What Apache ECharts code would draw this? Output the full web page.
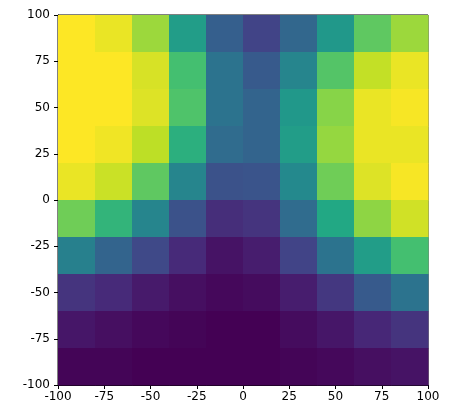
<!DOCTYPE html>
<html><head><meta charset="utf-8">
<script src="https://cdn.jsdelivr.net/npm/echarts@6/dist/echarts.min.js"></script>
<style>html,body{margin:0;padding:0;background:#fff}#c{width:450px;height:418px}</style>
</head><body><div id="c"></div>
<script>
const xCenters = [-90,-70,-50,-30,-10,10,30,50,70,90];
const yCenters = [90,70,50,30,10,-10,-30,-50,-70,-90];
const row90  = [1.0,0.97,0.85,0.55,0.30,0.20,0.33,0.53,0.75,0.85];
const row70  = [1.0,1.0,0.94,0.70,0.38,0.28,0.45,0.73,0.91,0.97];
const row50  = [1.0,1.0,0.95,0.72,0.38,0.32,0.53,0.82,0.97,0.99];
const row30  = [1.0,0.98,0.90,0.63,0.35,0.32,0.55,0.84,0.97,0.97];
const row10  = [0.97,0.92,0.75,0.45,0.25,0.26,0.47,0.78,0.95,0.99];
const rowm10 = [0.78,0.65,0.45,0.25,0.13,0.15,0.35,0.60,0.83,0.93];
const rowm30 = [0.43,0.32,0.22,0.12,0.05,0.08,0.20,0.38,0.55,0.70];
const rowm50 = [0.15,0.12,0.07,0.04,0.02,0.03,0.08,0.16,0.28,0.38];
const rowm70 = [0.06,0.04,0.02,0.01,0.0,0.0,0.03,0.06,0.11,0.15];
const rowm90 = [0.01,0.01,0.0,0.0,0.0,0.0,0.01,0.02,0.04,0.05];
const rows = [row90,row70,row50,row30,row10,rowm10,rowm30,rowm50,rowm70,rowm90];
const viridis = ['#440154','#482475','#414487','#355f8d','#2a788e','#21918c','#22a884','#44bf70','#7ad151','#bddf26','#fde725'];
const data = [];
rows.forEach((r,i)=>r.forEach((v,j)=>data.push([xCenters[j],yCenters[i],v])));
const chart = echarts.init(document.getElementById('c'));
const ax = {type:'value',min:-100,max:100,interval:25,
  axisLine:{show:true,onZero:false,lineStyle:{color:'#000'}},
  axisTick:{show:true,length:4,lineStyle:{color:'#000'}},
  axisLabel:{color:'#000',fontSize:12,fontFamily:'DejaVu Sans'},
  splitLine:{show:false}};
chart.setOption({
  animation:false,
  grid:{left:58,right:22,top:15,bottom:33,show:true,borderColor:'#000',borderWidth:1},
  xAxis:Object.assign({},ax,{axisLabel:Object.assign({},ax.axisLabel,{margin:6})}),
  yAxis:Object.assign({},ax),
  visualMap:{show:false,min:0,max:1,dimension:2,inRange:{color:viridis}},
  series:[{type:'custom',data:data,encode:{x:0,y:1},
    renderItem:function(params,api){
      const p0=api.coord([api.value(0)-10,api.value(1)+10]);
      const p1=api.coord([api.value(0)+10,api.value(1)-10]);
      return {type:'rect',shape:{x:p0[0],y:p0[1],width:p1[0]-p0[0]+0.5,height:p1[1]-p0[1]+0.5},
        style:{fill:api.visual('color')}};
    }}]
});
</script></body></html>
